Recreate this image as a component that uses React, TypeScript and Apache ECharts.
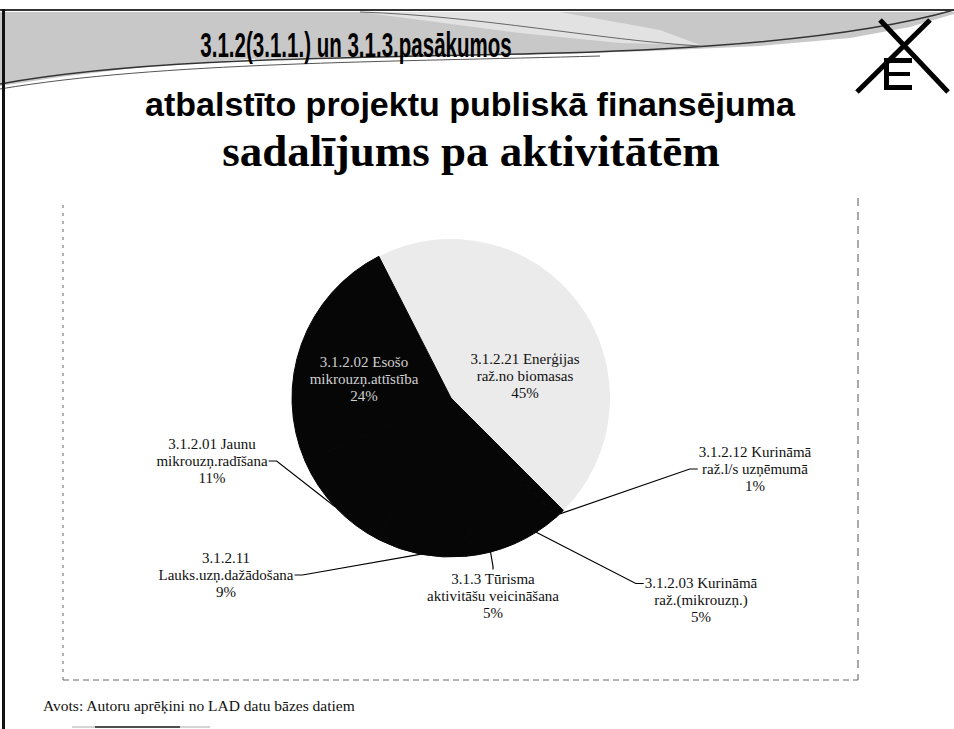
import React, { useEffect, useRef } from 'react';
import * as echarts from 'echarts';

// ---- data ----
const categories: string[] = [
  '3.1.2.21 Enerģijas\nraž.no biomasas',
  '3.1.2.12 Kurināmā\nraž.l/s uzņēmumā',
  '3.1.2.03 Kurināmā\nraž.(mikrouzņ.)',
  '3.1.3 Tūrisma\naktivitāšu veicināšana',
  '3.1.2.11\nLauks.uzņ.dažādošana',
  '3.1.2.01 Jaunu\nmikrouzņ.radīšana',
  '3.1.2.02 Esošo\nmikrouzņ.attīstība',
];
const shares: number[] = [45, 1, 5, 5, 9, 11, 24];

const titleLines: string[] = [
  '3.1.2(3.1.1.) un 3.1.3.pasākumos',
  'atbalstīto projektu publiskā finansējuma',
  'sadalījums pa aktivitātēm',
];
const sourceNote = 'Avots: Autoru aprēķini no LAD datu bāzes datiem';

// ---- styles / layout ----
const sliceColors = ['#ebebeb', '#060606', '#060606', '#060606', '#060606', '#060606', '#060606'];
const labelColors = ['#111', '#111', '#111', '#111', '#111', '#111', '#cfcfcf'];
const labelInside = [true, false, false, false, false, false, true];
const labelCenters: number[][] = [
  [525, 376], [755, 469], [701, 600], [493, 596], [226, 575], [212, 461], [364, 379],
];
const labelSides = ['none', 'left', 'leftTop', 'top', 'right', 'right', 'none'];

export default function App() {
  const ref = useRef<HTMLDivElement>(null);
  useEffect(() => {
    if (!ref.current) return;
    document.body.style.margin = '0';
    const chart = echarts.init(ref.current, null, { renderer: 'svg' });

    const serif = "'Liberation Serif', 'Times New Roman', serif";
    const sans = "'Liberation Sans', Arial, sans-serif";

    const graphic: any[] = [
      // header texture
      {
        type: 'polygon', z: 0, silent: true,
        shape: { points: [[0, 12], [954, 12], [954, 14], [910, 27], [850, 38], [760, 46], [650, 51], [520, 55], [380, 56], [250, 59], [150, 66], [60, 77], [0, 86]] },
        style: { fill: '#c8c8c8' },
      },
      {
        type: 'polygon', z: 1, silent: true,
        shape: { points: [[360, 12], [560, 12], [660, 30], [700, 45], [620, 43], [520, 33]] },
        style: { fill: '#e2e2e2' },
      },
      // wave lines
      {
        type: 'bezierCurve', z: 2, silent: true,
        shape: { x1: 0, y1: 84, cpx1: 150, cpy1: 56, cpx2: 380, cpy2: 58, x2: 560, y2: 53 },
        style: { stroke: '#333', lineWidth: 1.5, fill: null },
      },
      {
        type: 'bezierCurve', z: 2, silent: true,
        shape: { x1: 560, y1: 53, cpx1: 740, cpy1: 48, cpx2: 870, cpy2: 34, x2: 954, y2: 10 },
        style: { stroke: '#333', lineWidth: 1.5, fill: null },
      },
      {
        type: 'bezierCurve', z: 2, silent: true,
        shape: { x1: 0, y1: 89, cpx1: 160, cpy1: 62, cpx2: 390, cpy2: 62, x2: 600, y2: 56 },
        style: { stroke: '#555', lineWidth: 1, fill: null },
      },
      {
        type: 'bezierCurve', z: 2, silent: true,
        shape: { x1: 360, y1: 12, cpx1: 480, cpy1: 16, cpx2: 600, cpy2: 40, x2: 700, y2: 46 },
        style: { stroke: '#666', lineWidth: 1, fill: null },
      },
      // borders
      { type: 'rect', z: 3, silent: true, shape: { x: 0, y: 9, width: 954, height: 2 }, style: { fill: '#333' } },
      { type: 'rect', z: 3, silent: true, shape: { x: 2, y: 9, width: 3, height: 720 }, style: { fill: '#111' } },
      // chart frame (dashed)
      { type: 'line', z: 3, silent: true, shape: { x1: 63, y1: 205, x2: 63, y2: 680 }, style: { stroke: '#666', lineWidth: 1, lineDash: [3, 5] } },
      { type: 'line', z: 3, silent: true, shape: { x1: 858, y1: 198, x2: 858, y2: 680 }, style: { stroke: '#555', lineWidth: 1, lineDash: [8, 6] } },
      { type: 'line', z: 3, silent: true, shape: { x1: 63, y1: 680, x2: 858, y2: 680 }, style: { stroke: '#666', lineWidth: 1, lineDash: [6, 4] } },
      // logo
      { type: 'line', z: 4, silent: true, shape: { x1: 880, y1: 20, x2: 948, y2: 92 }, style: { stroke: '#000', lineWidth: 5 } },
      { type: 'line', z: 4, silent: true, shape: { x1: 930, y1: 20, x2: 857, y2: 92 }, style: { stroke: '#000', lineWidth: 5 } },
      { type: 'rect', z: 4, silent: true, shape: { x: 884, y: 58, width: 5, height: 32 }, style: { fill: '#000' } },
      { type: 'rect', z: 4, silent: true, shape: { x: 884, y: 58, width: 28, height: 5 }, style: { fill: '#000' } },
      { type: 'rect', z: 4, silent: true, shape: { x: 884, y: 72, width: 26, height: 4 }, style: { fill: '#000' } },
      { type: 'rect', z: 4, silent: true, shape: { x: 884, y: 85, width: 28, height: 5 }, style: { fill: '#000' } },
      // title
      {
        type: 'text', z: 5, silent: true, x: 356, y: 44, scaleX: 0.57,
        style: { x: 0, y: 0, text: titleLines[0], font: `bold 36px ${sans}`, fill: '#000', align: 'center', verticalAlign: 'middle', textAlign: 'center', textVerticalAlign: 'middle' },
      },
      {
        type: 'text', z: 5, silent: true, x: 470, y: 104,
        style: { x: 0, y: 0, text: titleLines[1], font: `bold 34px ${sans}`, fill: '#000', align: 'center', verticalAlign: 'middle', textAlign: 'center', textVerticalAlign: 'middle' },
      },
      {
        type: 'text', z: 5, silent: true, x: 471, y: 151,
        style: { x: 0, y: 0, text: titleLines[2], font: `bold 45px ${serif}`, fill: '#000', align: 'center', verticalAlign: 'middle', textAlign: 'center', textVerticalAlign: 'middle' },
      },
      // source note
      {
        type: 'text', z: 5, silent: true, x: 43, y: 705,
        style: { x: 0, y: 0, text: sourceNote, font: `15.5px ${serif}`, fill: '#111', align: 'left', verticalAlign: 'middle', textAlign: 'left', textVerticalAlign: 'middle' },
      },
      { type: 'line', z: 3, silent: true, shape: { x1: 72, y1: 727, x2: 210, y2: 727 }, style: { stroke: '#aaa', lineWidth: 1 } },
      { type: 'line', z: 3, silent: true, shape: { x1: 95, y1: 727, x2: 180, y2: 727 }, style: { stroke: '#222', lineWidth: 1.5 } },
    ];

    const data = shares.map((v, i) => ({
      name: categories[i],
      value: v,
      itemStyle: {
        color: sliceColors[i],
        borderColor: sliceColors[i],
        borderWidth: i === 0 ? 0 : 1,
      },
      label: { position: labelInside[i] ? 'inside' : 'outside', color: labelColors[i] },
      labelLine: { show: !labelInside[i] },
    }));

    const option: any = {
      animation: false,
      backgroundColor: '#ffffff',
      graphic,
      series: [
        {
          type: 'pie',
          center: [451, 398],
          radius: 159,
          startAngle: 117,
          clockwise: true,
          avoidLabelOverlap: false,
          silent: true,
          z: 6,
          data,
          label: {
            formatter: (p: any) => `${p.name}\n${Math.round(p.percent)}%`,
            fontFamily: serif,
            fontSize: 15,
            lineHeight: 17,
            align: 'center',
          },
          labelLine: { show: true, length: 20, length2: 8, lineStyle: { color: '#000', width: 1.2 } },
          labelLayout: (params: any) => {
            const i = params.dataIndex;
            const [cx, cy] = labelCenters[i];
            const w = params.labelRect.width;
            const h = params.labelRect.height;
            const res: any = { x: cx, y: cy, align: 'center', verticalAlign: 'middle' };
            const pts = params.labelLinePoints;
            const side = labelSides[i];
            if (pts && side !== 'none') {
              const a = pts[0];
              let end: number[];
              let mid: number[];
              if (side === 'left') { end = [cx - w / 2 - 1, cy]; mid = [end[0] - 8, end[1]]; }
              else if (side === 'leftTop') { end = [cx - w / 2 - 1, cy - h / 2 + 9]; mid = [end[0] - 8, end[1]]; }
              else if (side === 'top') { end = [cx, cy - h / 2 - 1]; mid = [cx, end[1] - 3]; }
              else { end = [cx + w / 2 + 1, cy]; mid = [end[0] + 8, end[1]]; }
              res.labelLinePoints = [a, mid, end];
            }
            return res;
          },
        },
      ],
    };
    chart.setOption(option);
    return () => chart.dispose();
  }, []);
  return <div ref={ref} style={{ position: 'fixed', left: 0, top: 0, width: 954, height: 729 }} />;
}
